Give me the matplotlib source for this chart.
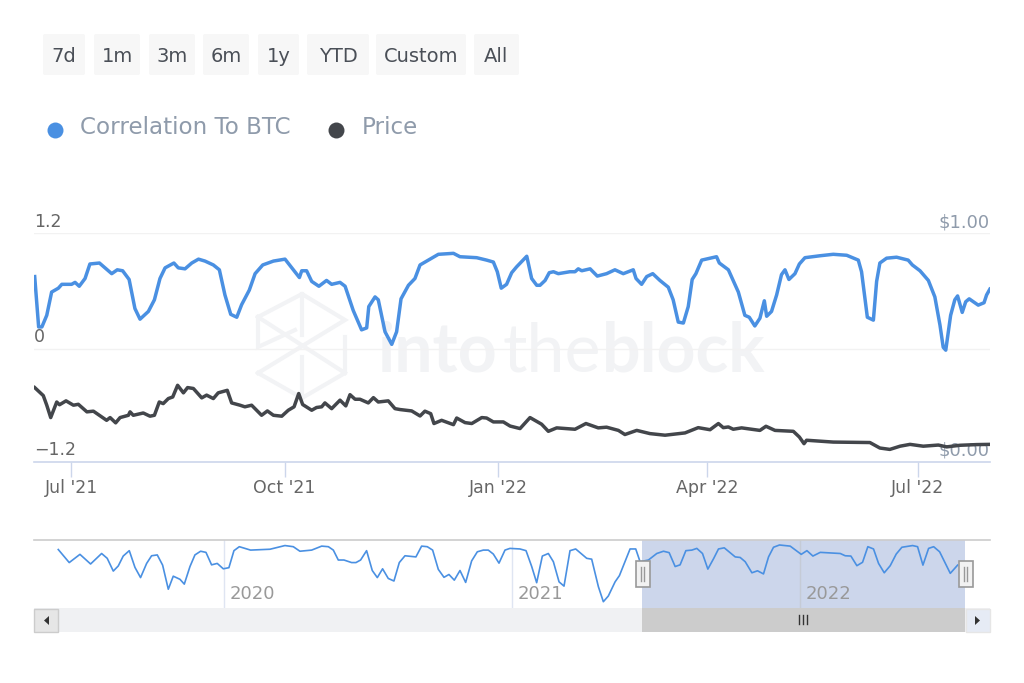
# encoding: utf-8
import datetime as dt
import matplotlib
matplotlib.use('Agg')
import matplotlib.pyplot as plt
import matplotlib.dates as mdates
from matplotlib.patches import FancyBboxPatch, Rectangle, Polygon

# days since start_main
start_main = dt.date(2021, 6, 15)
corr_days = [0.3,2,3.4,5.5,7.6,10.5,12,16.2,17.7,19.5,22,24.1,28.2,30.6,33.5,35.9,38.2,41,43.5,45.7,49.3,51.9,54.3,56.5,60.3,62.2,65.1,68,70.9,73.7,77.3,79.9,82.3,84.8,87.4,89.5,92.8,95.3,98.6,103.2,108.2,111.8,114.4,115.4,117.5,119.7,122.8,126.1,128.3,131.9,134.1,137.6,141.2,143.4,144.3,147,148.4,151.3,154.2,156.3,158.2,161.4,164.2,166.4,170,174.3,180.8,183.6,190.8,195.1,198,199.7,201.4,203.7,205.9,208,212.4,214.5,216.7,218.1,220.3,222.1,223.9,226,231,233.2,234.6,236.1,239.7,242.8,246.8,250.4,254,258.3,259.5,261.9,264.1,266.7,269.8,273.4,275.5,277.7,279.9,282,283.7,285.3,287.8,294.2,295.4,299.3,303.6,306.4,308.3,310.7,312.9,314.8,315.8,317.9,320.1,322.2,323.7,325.4,328,329.9,332.3,338.8,344.5,350.3,355.3,356.7,359.2,361.8,363.2,364.6,367.5,371.8,376.8,378.6,381.9,385.5,388.3,390.5,391.9,393,395.1,396.9,398.1,400.1,401.6,403.1,407,409.5,410.6,412]
corr_vals = [.75,.23,.23,.35,.59,.63,.67,.67,.69,.65,.73,.88,.89,.84,.78,.82,.81,.72,.42,.31,.39,.51,.73,.84,.89,.84,.83,.89,.93,.91,.87,.82,.56,.36,.33,.46,.61,.78,.87,.91,.93,.82,.74,.81,.81,.70,.65,.71,.67,.69,.65,.40,.20,.22,.44,.54,.51,.18,.05,.18,.52,.66,.73,.87,.92,.98,.99,.955,.945,.92,.90,.80,.63,.67,.79,.85,.96,.73,.66,.66,.71,.79,.80,.78,.80,.80,.83,.81,.83,.755,.78,.82,.78,.82,.73,.67,.75,.78,.71,.64,.51,.28,.27,.44,.72,.78,.92,.955,.89,.82,.59,.35,.33,.24,.32,.50,.34,.39,.56,.77,.82,.72,.78,.88,.945,.965,.98,.97,.92,.80,.33,.30,.70,.89,.94,.95,.92,.87,.81,.71,.54,.25,.02,-.01,.35,.51,.55,.38,.49,.52,.455,.48,.56,.62]

price_days = [0.3,4,5.5,7.2,9.8,11,13.8,17,19.1,22.8,25.6,31.3,32.8,35.2,37.1,40.7,41.4,42.8,47.1,50,51.9,54,55.7,57.9,59.8,61.9,64.4,66.2,68.7,72.3,74.4,77.3,79.4,83.3,85.2,88.8,90.9,93.8,98.1,100.6,103.2,106.8,109.6,112.1,114.1,115.8,119.7,121.8,124,125.4,128.3,131.9,134.4,136.2,138.4,140.5,144.1,146.3,148.4,152.7,155.6,157.8,162.8,166.4,168.5,171,172.4,175.7,180.8,182.2,185.8,188.7,193,195.1,198,202.3,205.2,209.5,213.8,218.8,221.7,225.3,233.2,237.9,243.2,246.8,251.9,254.7,259.8,265.5,272,280.6,286.3,291.4,295,297.1,299.3,301.4,305,312.9,315.5,319.4,327.3,329.9,331.9,333,344.5,360.3,364.6,368.9,373.3,377.6,383.3,389.8,393.4,399.1,406.3,412]
price_vals = [.325,.29,.248,.194,.262,.25,.267,.248,.252,.219,.222,.182,.194,.171,.194,.204,.219,.204,.214,.2,.204,.262,.255,.277,.284,.335,.302,.325,.321,.28,.292,.277,.302,.313,.258,.248,.241,.248,.204,.223,.204,.2,.226,.241,.299,.251,.226,.238,.241,.258,.233,.27,.245,.294,.274,.274,.258,.281,.262,.267,.233,.229,.223,.201,.222,.211,.168,.182,.163,.192,.172,.168,.194,.192,.175,.175,.157,.146,.194,.165,.134,.149,.143,.168,.149,.152,.138,.12,.138,.124,.117,.127,.15,.141,.168,.15,.153,.143,.149,.138,.156,.138,.134,.109,.08,.095,.087,.085,.061,.055,.069,.077,.069,.074,.066,.073,.076,.077]

# overview series, days since 2020-01-01
start_nav = dt.date(2020, 1, 1)
nav_days = [-210.2,-196.3,-182.7,-169.2,-155.2,-148.1,-140.4,-134.1,-127.8,-120.1,-112.9,-105.8,-98.1,-91.8,-84.6,-77.8,-70.6,-64.3,-55.8,-50.3,-43.1,-36.8,-29.6,-22.8,-15.7,-8.5,-0.8,6.3,12.7,19.5,33.8,58.4,77.4,88,96.4,111.3,124,132.5,138.8,145.1,152.3,162,167.5,173.4,181,188.2,194.6,201.3,208.5,215.7,222.5,229.7,243.6,250.8,258,264.8,272,279.2,285.5,292.3,299.5,306.7,314.3,321.5,329.1,335.4,341.8,349,356.6,362.9,375.6,383.3,390.5,396.8,404,411.6,418,425.2,431.5,439.1,446.3,460.3,466.6,475.1,481.4,487.7,496.3,501.8,515.3,522.5,528,538.6,549.2,557.7,564.9,572.5,578.8,586.1,593.7,600,607.2,614,621.5,627.5,634.8,648.7,655,661.4,669.9,677,684.6,691,697.3,704.9,718.5,732.5,739.7,747.3,756.6,782,788.3,795.5,803.1,810.3,817,824.2,830.6,837.8,845.4,853,860.2,873.8,880.1,886.9,894.1,900.5,908.1,921.6,930.9]
nav_vals = [.92,.69,.835,.665,.85,.765,.54,.63,.805,.9,.605,.425,.675,.81,.825,.645,.22,.45,.395,.31,.62,.825,.89,.87,.65,.675,.58,.6,.9,.97,.91,.925,.99,.97,.89,.91,.98,.97,.91,.735,.735,.69,.69,.735,.9,.55,.425,.58,.41,.365,.69,.81,.79,.98,.97,.91,.57,.43,.48,.38,.55,.34,.72,.88,.91,.91,.84,.68,.91,.94,.93,.90,.62,.335,.805,.85,.705,.35,.275,.9,.93,.765,.75,.265,0,.1,.35,.46,.93,.93,.705,.735,.85,.89,.865,.62,.65,.9,.91,.94,.85,.575,.765,.93,.95,.79,.78,.705,.51,.545,.49,.79,.96,1.0,.98,.835,.9,.805,.87,.85,.81,.805,.635,.695,.97,.93,.675,.51,.635,.84,.96,.99,.97,.645,.94,.97,.88,.5,.645]

main_ticks = [dt.date(2021, 7, 1), dt.date(2021, 10, 1), dt.date(2022, 1, 1), dt.date(2022, 4, 1), dt.date(2022, 7, 1)]
main_labels = ["Jul '21", "Oct '21", "Jan '22", "Apr '22", "Jul '22"]
nav_ticks = [dt.date(2020, 1, 1), dt.date(2021, 1, 1), dt.date(2022, 1, 1)]
nav_labels = ['2020', '2021', '2022']
buttons = ['7d', '1m', '3m', '6m', '1y', 'YTD', 'Custom', 'All']
button_edges = [(43, 85), (94, 140), (149, 195), (203, 249), (258, 299), (307, 369), (376, 466), (474, 519)]

BLUE = '#4a90e2'
DARK = '#43464b'
W, H = 1024, 683


def axes_px(fig, x0, y0, x1, y1):
	return fig.add_axes([x0 / W, 1 - y1 / H, (x1 - x0) / W, (y1 - y0) / H])


def to_dates(base, days):
	return [mdates.date2num(base) + d for d in days]


def start():
	fig = plt.figure(figsize=(W / 100, H / 100), dpi=100, facecolor='white')

	# page furniture in pixel coordinates
	bg = axes_px(fig, 0, 0, W, H)
	bg.set_xlim(0, W)
	bg.set_ylim(H, 0)
	bg.axis('off')

	for name, (a, b) in zip(buttons, button_edges):
		bg.add_patch(FancyBboxPatch((a + 2, 36), b - a - 4, 37, boxstyle='round,pad=2', fc='#f7f7f7', ec='none'))
		bg.text((a + b) / 2, 56, name, ha='center', va='center', fontsize=14, color='#4a4f57')

	bg.plot([55], [130], 'o', ms=11.5, color=BLUE, mec='none')
	bg.text(80, 128, 'Correlation To BTC', ha='left', va='center', fontsize=16.6, color='#8f9bab')
	bg.plot([336], [130], 'o', ms=11.5, color=DARK, mec='none')
	bg.text(362, 128, 'Price', ha='left', va='center', fontsize=16.6, color='#8f9bab')

	# watermark
	wm = '#f2f3f5'
	bg.text(378, 372, 'into', ha='left', va='baseline', family='Lato', fontsize=49, fontweight='bold', color=wm)
	bg.text(502, 372, 'the', ha='left', va='baseline', family='Lato', fontsize=49, color=wm)
	bg.text(602, 372, 'block', ha='left', va='baseline', family='Lato', fontsize=49, fontweight='bold', color=wm)
	for pts in ([(258, 317), (302, 294), (345, 320), (258, 373)],
				[(258, 317), (345, 373)],
				[(258, 317), (258, 347), (295, 330)],
				[(302, 294), (302, 335)],
				[(345, 337), (345, 373), (302, 398), (258, 373)],
				[(302, 357), (302, 398)]):
		bg.plot(*zip(*pts), color=wm, lw=3, solid_joinstyle='miter')

	bg.text(34, 222, '1.2', ha='left', va='center', fontsize=12.5, color='#666666')
	bg.text(34, 337, '0', ha='left', va='center', fontsize=12.5, color='#666666')
	bg.text(34, 450, '\u22121.2', ha='left', va='center', fontsize=12.5, color='#666666')
	bg.text(990, 222, '$1.00', ha='right', va='center', fontsize=13, color='#8f9bab')
	bg.text(990, 450, '$0.00', ha='right', va='center', fontsize=13, color='#8f9bab')

	# main chart
	x_lo = mdates.date2num(start_main)
	x_hi = x_lo + (990 - 34) / 2.32
	ax = axes_px(fig, 34, 233, 990, 462)
	ax.patch.set_alpha(0)
	ax.set_xlim(x_lo, x_hi)
	ax.set_ylim(-1.165, 1.2)
	ax.set_yticks([0, 1.2])
	ax.set_yticklabels([])
	ax.tick_params(axis='y', length=0)
	ax.grid(axis='y', color='#f2f2f2', lw=1)
	ax.set_axisbelow(True)
	for s in ['top', 'left', 'right']:
		ax.spines[s].set_visible(False)
	ax.spines['bottom'].set_color('#ccd6eb')
	ax.spines['bottom'].set_linewidth(1.2)
	ax.set_xticks([mdates.date2num(d) for d in main_ticks])
	ax.set_xticklabels(main_labels, fontsize=12.5, color='#666666')
	ax.tick_params(axis='x', length=11, color='#ccd6eb', width=1, pad=1)
	ax.plot(to_dates(start_main, corr_days), corr_vals, color=BLUE, lw=2.5, solid_joinstyle='round', zorder=3)

	ax2 = ax.twinx()
	ax2.set_ylim(0, 1)
	ax2.set_yticks([])
	for s in ax2.spines.values():
		s.set_visible(False)
	ax2.plot(to_dates(start_main, price_days), price_vals, color=DARK, lw=2.5, solid_joinstyle='round', zorder=3)

	# overview chart
	nx_lo = mdates.date2num(start_nav) - 241
	nx_hi = mdates.date2num(start_nav) + 972
	nav = axes_px(fig, 34, 540, 990, 608)
	nav.patch.set_alpha(0)
	nav.set_xlim(nx_lo, nx_hi)
	nav.set_ylim(-0.111, 1.088)
	nav.set_yticks([])
	for s in ['left', 'right', 'bottom']:
		nav.spines[s].set_visible(False)
	nav.spines['top'].set_color('#cccccc')
	nav.spines['top'].set_linewidth(1.2)
	nav.set_xticks([])
	for d, label in zip(nav_ticks, nav_labels):
		xv = mdates.date2num(d)
		nav.axvline(xv, color='#dfe5f2', lw=1, zorder=1)
		nav.text(xv + 7, 0.136, label, ha='left', va='center', fontsize=13, color='#999999', zorder=5)
	sel_a = mdates.date2num(start_nav) + (642 - 224) / 0.788
	sel_b = mdates.date2num(start_nav) + (965 - 224) / 0.788
	nav.axvspan(sel_a, sel_b, color='#ccd6eb', lw=0, zorder=2)
	nav.axvline(mdates.date2num(nav_ticks[2]), color='#c5cbd6', lw=1, zorder=2.5)
	nav.plot(to_dates(start_nav, nav_days), nav_vals, color=BLUE, lw=1.2, zorder=3)

	# scrollbar and handles, over the overview chart
	fg = axes_px(fig, 0, 0, W, H)
	fg.patch.set_alpha(0)
	fg.set_xlim(0, W)
	fg.set_ylim(H, 0)
	fg.axis('off')
	fg.add_patch(Rectangle((34, 608), 956, 24, fc='#f0f1f3', ec='none'))
	fg.add_patch(Rectangle((642, 608), 323, 24, fc='#cccccc', ec='none'))
	fg.add_patch(Rectangle((33.5, 608.5), 24, 23, fc='#e6e6e6', ec='#cccccc', lw=1))
	fg.add_patch(Rectangle((966, 608.5), 23.5, 23, fc='#e6ebf5', ec='#e6e6e6', lw=1))
	fg.add_patch(Polygon([(49, 616), (49, 625), (44, 620.5)], fc='#333333', ec='none'))
	fg.add_patch(Polygon([(975, 616), (975, 625), (980, 620.5)], fc='#333333', ec='none'))
	for bx in (799, 803, 807):
		fg.plot([bx, bx], [615, 624], color='#333333', lw=1)
	for hx in (642.5, 965.5):
		fg.add_patch(Rectangle((hx - 7, 561), 14, 26, fc='#f2f2f2', ec='#999999', lw=1.2, zorder=4))
		for off in (-1.5, 1.5):
			fg.plot([hx + off, hx + off], [567, 581], color='#999999', lw=1, zorder=5)

	fig.savefig('out.png', dpi=100)


if __name__ == "__main__":
	start()
